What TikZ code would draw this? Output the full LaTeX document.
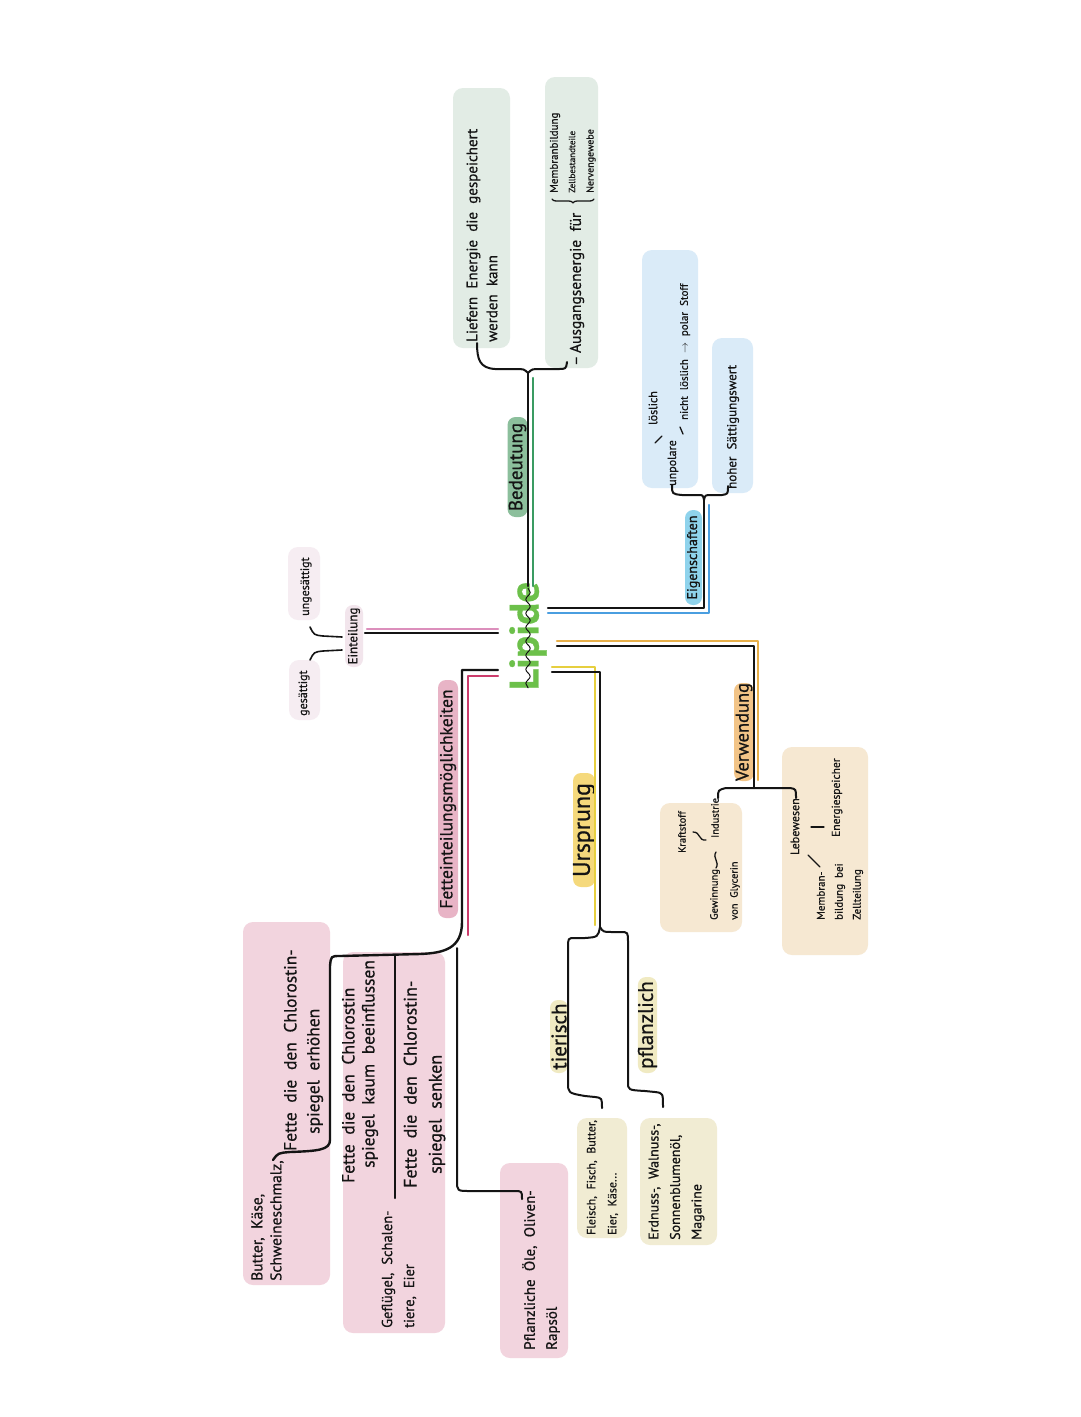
\documentclass[tikz,border=0pt]{standalone}
\usepackage{fontspec}
\setmainfont{PT Sans}[FakeBold=0.7]
\usetikzlibrary{decorations.pathmorphing,decorations.pathreplacing}
\newcommand\myfs[2]{\fontsize{#1}{#2}\selectfont\spaceskip=0.55em plus 0.1em minus 0.05em\relax}
\definecolor{ink}{HTML}{141414}
\definecolor{grnbox}{HTML}{E2ECE5}
\definecolor{bedc}{HTML}{8CBF9C}
\definecolor{gline}{HTML}{3A9B62}
\definecolor{blubox}{HTML}{DAEBF8}
\definecolor{eigc}{HTML}{8FD3EC}
\definecolor{bline}{HTML}{4A9EE0}
\definecolor{pinkbox}{HTML}{F2D4DE}
\definecolor{fetc}{HTML}{E8B4C6}
\definecolor{einc}{HTML}{F2E5EC}
\definecolor{palepink}{HTML}{F6EDF2}
\definecolor{pline}{HTML}{DC8FBC}
\definecolor{rline}{HTML}{CC3C6C}
\definecolor{ursc}{HTML}{F5D97C}
\definecolor{tiec}{HTML}{F0EAC2}
\definecolor{ursbox}{HTML}{F1ECD3}
\definecolor{yline}{HTML}{E6CF3F}
\definecolor{verc}{HTML}{F2C487}
\definecolor{verbox}{HTML}{F6E8D2}
\definecolor{oline}{HTML}{E8B04A}
\definecolor{lipc}{HTML}{6CC04A}
\begin{document}
\begin{tikzpicture}[x=1pt,y=-1pt,
  txt/.style={rotate=90,anchor=west,inner sep=0pt,align=left,text=ink},
  pill/.style={rotate=90,rounded corners=8pt,inner sep=0pt,text=ink},
  card/.style={rounded corners=10pt,inner sep=0pt},
  ln/.style={line width=2.4pt,line cap=round,line join=round},
  pen/.style={draw=ink,line width=2pt,line cap=round,line join=round},
  thin/.style={draw=ink,line width=1.3pt,line cap=round,line join=round}]
\useasboundingbox (0,0) rectangle (1080,1417);
\fill[white] (0,0) rectangle (1080,1417);

% ---------- cards ----------
\node[card,fill=grnbox,minimum width=57,minimum height=260] (gbox1) at (481.5,218) {};
\node[card,fill=grnbox,minimum width=53,minimum height=291] (gbox2) at (571.5,222.5) {};
\node[card,fill=blubox,minimum width=56,minimum height=238] (bbox1) at (670,369) {};
\node[card,fill=blubox,minimum width=41,minimum height=155] (bbox2) at (732.5,415.5) {};
\node[card,fill=palepink,minimum width=31,minimum height=60] (gesbox) at (304.5,690) {};
\node[card,fill=palepink,minimum width=32,minimum height=73] (ungbox) at (304,583.5) {};
\node[card,fill=pinkbox,minimum width=87,minimum height=363] (pbox1) at (286.5,1103.5) {};
\node[card,fill=pinkbox,minimum width=102,minimum height=381] (pbox2) at (394,1142.5) {};
\node[card,fill=pinkbox,minimum width=68,minimum height=195] (pbox3) at (534,1260.5) {};
\node[card,fill=ursbox,minimum width=50,minimum height=120] (ybox1) at (602,1178) {};
\node[card,fill=ursbox,minimum width=77,minimum height=127] (ybox2) at (678.5,1181.5) {};
\node[card,fill=verbox,minimum width=82,minimum height=129] (vbox1) at (701,867.5) {};
\node[card,fill=verbox,minimum width=86,minimum height=208] (vbox2) at (825,851) {};

% ---------- pills ----------
\node[pill,fill=bedc,minimum width=100,minimum height=20,font=\myfs{19}{19}] (bed) at (517.5,467) {Bedeutung};
\node[pill,fill=eigc,minimum width=95,minimum height=17,font=\myfs{14}{14}] (eig) at (693.5,557.5) {Eigenschaften};
\node[pill,fill=einc,minimum width=62,minimum height=18,font=\myfs{13}{13}] (ein) at (354,636) {Einteilung};
\node[pill,fill=fetc,minimum width=238,minimum height=20,font=\myfs{17.5}{17.5}] (fet) at (448,799) {Fetteinteilungsmöglichkeiten};
\node[pill,fill=ursc,minimum width=114,minimum height=22,font=\myfs{24}{24}] (urs) at (584,830) {Ursprung};
\node[pill,fill=verc,minimum width=91,minimum height=20,font=\myfs{18.5}{18.5}] (ver) at (744,732) {Verwendung};
\node[pill,fill=tiec,minimum width=73,minimum height=18,font=\myfs{21}{21}] (tie) at (559,1036.5) {tierisch};
\node[pill,fill=tiec,minimum width=96,minimum height=19,font=\myfs{21}{21}] (pfl) at (647.5,1025) {pflanzlich};

% ---------- centre ----------
\node[rotate=90,inner sep=0pt,text=lipc,font=\bfseries\myfs{41}{41}] (lip) at (528,636) {Lipide};
\draw[ink,line width=1pt,decorate,decoration={snake,amplitude=2.2pt,segment length=14pt}] (528,588) -- (528,688);

% ---------- texts ----------
\node[txt,font=\myfs{15}{20}] (t1) at (482,342) {Liefern Energie die gespeichert\\werden kann};
\node[txt,font=\myfs{15.5}{16}] (t2) at (577,366) {–\,Ausgangsenergie für};
\node[txt,font=\myfs{11}{11}] (t3) at (555,193) {Membranbildung};
\node[txt,font=\myfs{9}{9}] (t4) at (572,193) {Zellbestandteile};
\node[txt,font=\myfs{10}{10}] (t5) at (591,193) {Nervengewebe};

\node[txt,font=\myfs{12}{12}] (b1) at (673,486) {unpolare};
\node[txt,font=\myfs{12}{12}] (b2) at (653,425) {löslich};
\node[txt,font=\myfs{11}{11}] (b3) at (685,420) {nicht löslich $\rightarrow$ polar Stoff};
\node[txt,font=\myfs{13}{13}] (b4) at (733,489) {hoher Sättigungswert};

\node[txt,font=\myfs{12}{12}] (ges) at (304,716) {gesättigt};
\node[txt,font=\myfs{12}{12}] (ung) at (306,616) {ungesättigt};

\node[txt,font=\myfs{15.5}{19}] (p1) at (267.5,1281) {Butter, Käse,\\Schweineschmalz,};
\node[txt,font=\myfs{17.5}{23}] (p2) at (303.5,1151) {Fette die den Chlorostin-\\\hspace*{17pt}spiegel erhöhen};
\node[txt,font=\myfs{17.5}{20}] (p3) at (360,1183) {Fette die den Chlorostin\\\hspace*{15pt}spiegel kaum beeinflussen};
\node[txt,font=\myfs{18}{25}] (p4) at (424.5,1188) {Fette die den Chlorostin-\\\hspace*{14pt}spiegel senken};
\node[txt,font=\myfs{14.5}{22}] (p5) at (399,1328) {Geflügel, Schalen-\\tiere, Eier};
\node[txt,font=\myfs{15}{22}] (p6) at (541,1350) {Pflanzliche Öle, Oliven-\\Rapsöl};

\node[txt,font=\myfs{12}{21}] (y1) at (602.5,1235) {Fleisch, Fisch, Butter,\\Eier, Käse...};
\node[txt,font=\myfs{14}{21.5}] (y2) at (676.5,1240) {Erdnuss-, Walnuss-,\\Sonnenblumenöl,\\Magarine};

\node[txt,font=\myfs{10.5}{10.5}] (v1) at (715,838) {Industrie};
\node[txt,font=\myfs{10.5}{10.5}] (v2) at (682,853) {Kraftstoff};
\node[txt,font=\myfs{10.5}{20}] (v3) at (725,920) {Gewinnung\\von Glycerin};
\node[txt,font=\myfs{12}{12}] (v4) at (795,855) {Lebewesen};
\node[txt,font=\myfs{11.5}{11.5}] (v5) at (837,837) {Energiespeicher};
\node[txt,font=\myfs{11}{18}] (v6) at (840,920) {Membran-\\bildung bei\\Zellteilung};

% ---------- Bedeutung branch ----------
\coordinate (bedtop) at (528,373);
\draw[ln,ink] (528,586) -- (bedtop);
\draw[ln,gline] (533,586) -- (533,378);
\draw[pen] (477,343) .. controls (477,360) and (480,368) .. (495,369) -- (515,369) .. controls (524,369) .. (bedtop);
\draw[pen] (bedtop) .. controls (532,369) .. (540,369) -- (558,369) .. controls (566,369) .. (567,362);
\draw[thin,decorate,decoration={brace,amplitude=4pt}] (594,199) -- (552,199);

% ---------- Eigenschaften branch ----------
\coordinate (eigtop) at (704,500);
\draw[ln,ink] (548,608) -- (704,608) -- (eigtop);
\draw[ln,bline] (548,613) -- (709,613) -- (709,505);
\draw[pen] (672,485) .. controls (672,494) .. (682,495) -- (698,495) .. controls (703,495) .. (eigtop);
\draw[pen] (eigtop) .. controls (705,495) .. (712,495) -- (722,495) .. controls (728,494) .. (728,486);
\draw[thin] (655,443) -- (662,436);
\draw[thin] (680,427) -- (683,434);

% ---------- Einteilung branch ----------
\draw[ln,pline] (367,629) -- (498,629);
\draw[ln,ink] (365,633) -- (498,633);
\draw[thin,line width=1.6pt] (342,650) -- (323,651) .. controls (314,652) .. (310,660);
\draw[thin,line width=1.6pt] (342,637) -- (323,636) .. controls (314,635) .. (310,627);

% ---------- Fetteinteilung branch ----------
\draw[ln,rline] (498,676) -- (468,676) -- (468,935);
\draw[ln,ink] (498,670) -- (462,670) -- (462,922) .. controls (462,948) and (445,953) .. (420,954) -- (340,956) .. controls (331,956) .. (330,966) -- (330,1140) .. controls (330,1150) and (318,1151) .. (290,1152) .. controls (278,1153) .. (273,1160);
\draw[pen] (395,956) -- (395,1198);
\draw[pen] (457,948) -- (457,1180) .. controls (457,1191) .. (470,1191) -- (514,1191) .. controls (522,1191) .. (522,1199);

% ---------- Ursprung branch ----------
\coordinate (urstop) at (600,927);
\draw[ln,yline] (552,667) -- (595,667) -- (595,925);
\draw[ln,ink] (552,672) -- (600,672) -- (urstop);
\draw[pen] (urstop) .. controls (598,937) .. (585,938) -- (575,938) .. controls (568,938) .. (568,948) -- (568,1082) .. controls (568,1093) .. (585,1096) -- (595,1097) .. controls (602,1098) .. (602,1108);
\draw[pen] (urstop) .. controls (603,932) .. (615,932) -- (620,932) .. controls (628,932) .. (628,942) -- (628,1082) .. controls (628,1090) .. (645,1091) -- (655,1092) .. controls (663,1093) .. (663,1107);

% ---------- Verwendung branch ----------
\coordinate (vertop) at (754,788);
\draw[ln,oline] (557,641) -- (758,641) -- (758,780);
\draw[ln,ink] (557,646) -- (754,646) -- (vertop);
\draw[pen] (718,798) .. controls (718,790) .. (726,788) -- (790,788) .. controls (796,789) .. (796,798);
\draw[thin] (693,832) .. controls (701,832) and (698,841) .. (706,840);
\draw[thin] (716,852) .. controls (712,858) and (720,862) .. (716,868);
\draw[thin] (811,827) -- (824,827);
\draw[thin] (808,855) -- (820,867);
\end{tikzpicture}
\end{document}
